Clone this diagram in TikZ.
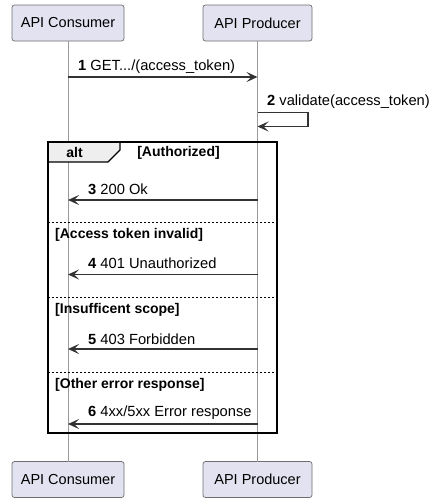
\documentclass[tikz,border=0pt]{standalone}
\usepackage{fontspec}
\setmainfont{Liberation Sans}
\usetikzlibrary{arrows.meta}
\definecolor{boxfill}{HTML}{E2E2F0}
\definecolor{boxdraw}{HTML}{6E6E6E}
\definecolor{lifeline}{HTML}{9A9A9A}
\definecolor{msgcol}{HTML}{333333}
\definecolor{tabfill}{HTML}{EEEEEE}
\tikzset{
  partbox/.style={draw=boxdraw, fill=boxfill, rounded corners=2.5pt, line width=0.7pt,
    minimum height=36pt, inner sep=0pt, font=\fontsize{14.5}{16}\selectfont},
  lline/.style={draw=lifeline, line width=0.8pt},
  msg/.style={draw=msgcol, line width=1.1pt, -{Stealth[length=11pt,width=10pt,inset=5pt]}},
  msglabel/.style={anchor=west, inner sep=0pt, font=\fontsize{14.7}{16}\selectfont},
  guard/.style={anchor=west, inner sep=0pt, font=\bfseries\fontsize{14}{16}\selectfont},
  frameline/.style={draw=black, line width=1.5pt},
  sepline/.style={draw=black, line width=0.7pt, dash pattern=on 2pt off 2pt},
}
\begin{document}
\begin{tikzpicture}[x=1pt,y=-1pt]
\useasboundingbox (0,0) rectangle (440,504);
% participants
\node[partbox, minimum width=112pt] (cTop) at (68,23) {API Consumer};
\node[partbox, minimum width=109pt] (pTop) at (257.5,23) {API Producer};
\node[partbox, minimum width=112pt] (cBot) at (68,479.5) {API Consumer};
\node[partbox, minimum width=109pt] (pBot) at (257.5,479.5) {API Producer};
% lifelines
\coordinate (cTopL) at (68,41);
\coordinate (cBotL) at (68,462);
\coordinate (pTopL) at (257.5,41);
\coordinate (pBotL) at (257.5,462);
\draw[lline] (cTopL) -- (cBotL);
\draw[lline] (pTopL) -- (pBotL);
% alt frame
\coordinate (fNW) at (48,142);
\coordinate (fSE) at (277,433);
\filldraw[fill=tabfill, draw=black, line width=1.1pt] (48,142) -- (120,142) -- (120,150) -- (108,162) -- (48,162) -- cycle;
\draw[frameline] (fNW) rectangle (fSE);
\node[font=\bfseries\fontsize{14}{16}\selectfont, inner sep=0pt] (altlbl) at (74.5,152) {alt};
\node[font=\bfseries\fontsize{14}{16}\selectfont, inner sep=0pt] (g1) at (178.5,153) {[Authorized]};
% separators
\coordinate (s1a) at (48,222); \coordinate (s1b) at (277,222);
\coordinate (s2a) at (48,297); \coordinate (s2b) at (277,297);
\coordinate (s3a) at (48,372); \coordinate (s3b) at (277,372);
\draw[sepline] (s1a) -- (s1b);
\draw[sepline] (s2a) -- (s2b);
\draw[sepline] (s3a) -- (s3b);
\node[guard] (g2) at (55,235) {[Access token invalid]};
\node[guard] (g3) at (55,310) {[Insufficent scope]};
\node[guard] (g4) at (55,385) {[Other error response]};
% message 1
\coordinate (m1a) at (68,77); \coordinate (m1b) at (257.5,77);
\draw[msg] (m1a) -- (m1b);
\node[msglabel] (l1) at (78,67) {\textbf{1} GET.../(access\_token)};
% message 2 (self)
\coordinate (m2a) at (257.5,112.5); \coordinate (m2r1) at (308,112.5);
\coordinate (m2r2) at (308,126.5); \coordinate (m2b) at (257.5,126.5);
\draw[msg] (m2a) -- (m2r1) -- (m2r2) -- (m2b);
\node[msglabel] (l2) at (267,102) {\textbf{2} validate(access\_token)};
% message 3
\coordinate (m3a) at (257.5,200); \coordinate (m3b) at (68,200);
\draw[msg] (m3a) -- (m3b);
\node[msglabel] (l3) at (88,189) {\textbf{3} 200 Ok};
% message 4
\coordinate (m4a) at (257.5,274.5); \coordinate (m4b) at (68,274.5);
\draw[msg] (m4a) -- (m4b);
\node[msglabel] (l4) at (88,263) {\textbf{4} 401 Unauthorized};
% message 5
\coordinate (m5a) at (257.5,349); \coordinate (m5b) at (68,349);
\draw[msg] (m5a) -- (m5b);
\node[msglabel] (l5) at (88,339) {\textbf{5} 403 Forbidden};
% message 6
\coordinate (m6a) at (257.5,424); \coordinate (m6b) at (68,424);
\draw[msg] (m6a) -- (m6b);
\node[msglabel] (l6) at (88,413) {\textbf{6} 4xx/5xx Error response};
\end{tikzpicture}
\end{document}
